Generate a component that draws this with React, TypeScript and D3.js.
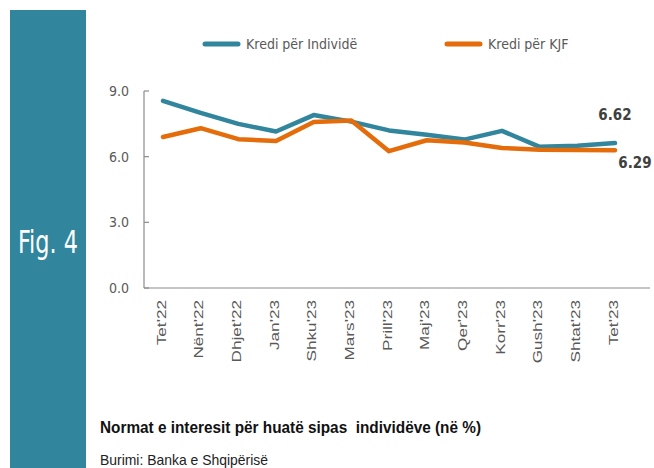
import * as d3 from "d3";

const months = ["Tet'22", "Nënt'22", "Dhjet'22", "Jan'23", "Shku'23", "Mars'23", "Prill'23", "Maj'23", "Qer'23", "Korr'23", "Gush'23", "Shtat'23", "Tet'23"];
const individe = [8.55, 8.0, 7.5, 7.15, 7.9, 7.6, 7.2, 7.0, 6.78, 7.18, 6.45, 6.5, 6.62];
const kjf = [6.9, 7.3, 6.8, 6.72, 7.58, 7.65, 6.25, 6.75, 6.65, 6.4, 6.32, 6.3, 6.29];
const yTicks = [0, 3, 6, 9];

const TEAL = "#31859C";
const ORANGE = "#E46C0A";
const GRAY = "#595959";
const NARROW = "'DejaVu Sans Condensed', 'Liberation Sans Narrow', sans-serif";

export default function App() {
  const width = 654;
  const height = 468;
  const axisX = 144;

  const x = d3.scalePoint<string>().domain(months).range([163, 615]);
  const y = d3.scaleLinear().domain([0, 9]).range([288, 91]);

  const line = d3
    .line<number>()
    .x((_, i) => x(months[i]) as number)
    .y((d) => y(d));

  const series = [
    { name: "Kredi për Individë", values: individe, color: TEAL, lx: 205 },
    { name: "Kredi për KJF", values: kjf, color: ORANGE, lx: 447 },
  ];

  const last = months[months.length - 1];

  return (
    <svg
      width={width}
      height={height}
      style={{ position: "absolute", left: 0, top: 0, background: "#fff" }}
    >
      {/* side band */}
      <rect x={10} y={10} width={76} height={height - 10} fill={TEAL} />
      <text
        x={48}
        y={253}
        fill="#fff"
        fontSize={32}
        fontFamily={NARROW}
        textAnchor="middle"
        textLength={60}
        lengthAdjust="spacingAndGlyphs"
      >
        Fig. 4
      </text>

      {/* legend */}
      {series.map((s) => (
        <g key={s.name}>
          <line x1={s.lx} x2={s.lx + 33} y1={44} y2={44} stroke={s.color} strokeWidth={5} strokeLinecap="round" />
          <text x={s.lx + 41} y={49} fontSize={14} fontFamily={NARROW} fill={GRAY}>
            {s.name}
          </text>
        </g>
      ))}

      {/* y axis */}
      <line x1={axisX} x2={axisX} y1={y(9)} y2={y(0)} stroke="#8c8c8c" strokeWidth={1.2} />
      {yTicks.map((t) => (
        <g key={t}>
          <line x1={axisX} x2={axisX + 5} y1={y(t)} y2={y(t)} stroke="#8c8c8c" strokeWidth={1.2} />
          <text x={129} y={y(t)} dy="0.35em" textAnchor="end" fontSize={14} fontFamily={NARROW} fill={GRAY}>
            {t.toFixed(1)}
          </text>
        </g>
      ))}

      {/* x axis */}
      <line x1={axisX} x2={650} y1={y(0)} y2={y(0)} stroke="#8c8c8c" strokeWidth={1.2} />
      {months.map((m) => (
        <text
          key={m}
          transform={`translate(${(x(m) as number) - 2},300) rotate(-90) scale(1.32,1)`}
          dy="0.35em"
          textAnchor="end"
          fontSize={13}
          fontFamily="'Liberation Sans', Arial, sans-serif"
          fill={GRAY}
        >
          {m}
        </text>
      ))}

      {/* lines */}
      {series.map((s) => (
        <path
          key={s.name}
          d={line(s.values) ?? ""}
          fill="none"
          stroke={s.color}
          strokeWidth={4.5}
          strokeLinejoin="round"
          strokeLinecap="round"
        />
      ))}

      {/* end labels */}
      <text
        x={x(last) as number}
        y={y(individe[individe.length - 1]) - 23}
        textAnchor="middle"
        fontSize={15}
        fontWeight="bold"
        fontFamily={NARROW}
        fill="#404040"
      >
        {individe[individe.length - 1].toFixed(2)}
      </text>
      <text
        x={(x(last) as number) + 20}
        y={y(kjf[kjf.length - 1]) + 17.5}
        textAnchor="middle"
        fontSize={15}
        fontWeight="bold"
        fontFamily={NARROW}
        fill="#404040"
      >
        {kjf[kjf.length - 1].toFixed(2)}
      </text>

      {/* caption */}
      <text
        x={100}
        y={433}
        fontSize={17}
        fontWeight="bold"
        fontFamily="'Liberation Sans', Arial, sans-serif"
        fill="#111"
        textLength={381}
        lengthAdjust="spacingAndGlyphs"
        style={{ whiteSpace: "pre" }}
      >
        {"Normat e interesit për huatë sipas  individëve (në %)"}
      </text>
      <text
        x={100}
        y={465}
        fontSize={15}
        fontFamily="'Liberation Sans', Arial, sans-serif"
        fill="#222"
        textLength={168}
        lengthAdjust="spacingAndGlyphs"
      >
        Burimi: Banka e Shqipërisë
      </text>
    </svg>
  );
}
